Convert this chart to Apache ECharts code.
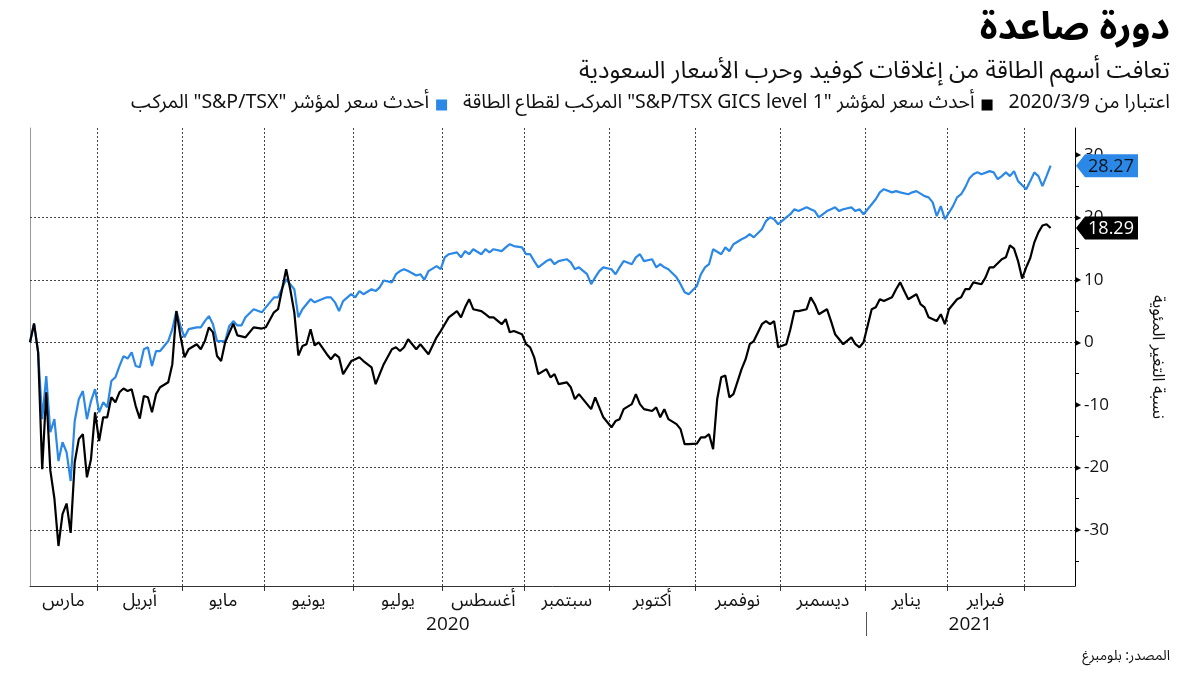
<!DOCTYPE html>
<html><head><meta charset="utf-8">
<script src="https://cdn.jsdelivr.net/npm/echarts@6/dist/echarts.min.js"></script>
<style>html,body{margin:0;padding:0;background:#fff}#c{width:1200px;height:675px}</style>
</head><body><div id="c"></div>
<script>
// ---- data ----
const monthNames = ['مارس','أبريل','مايو','يونيو','يوليو','أغسطس','سبتمبر','أكتوبر','نوفمبر','ديسمبر','يناير','فبراير'];
// trading-day index (from 2020-03-09) of the first session of each month, Mar 2020 .. Mar 2021
const monthStartDay = [0,17,38,58,80,102,122,143,164,185,206,226,245];
const yearLabels = ['2020','2021'];
const yLabelValues = [-30,-20,-10,0,10,20,30];
const yTickValues = [-35,-30,-25,-20,-15,-10,-5,0,5,10,15,20,25,30];
const gridValues = [20,10,0,-20,-30];
// [trading day, % change since 2020-03-09]
const energySector = [[0,0],[1,3.0],[2,-1.6],[3,-20.3],[4,-8.0],[5,-20.5],[6,-25.0],[7,-32.6],[8,-27.5],[9,-25.8],[10,-30.5],[11,-19.2],[12,-15.5],[13,-14.7],[14,-21.6],[15,-18.7],[16,-11.2],[17,-15.8],[18,-12.0],[19,-12.0],[20,-8.8],[21,-9.6],[22,-8.0],[23,-7.4],[24,-7.8],[25,-7.5],[26,-10.2],[27,-12.2],[28,-8.6],[29,-8.8],[30,-11.2],[31,-8.3],[32,-7.2],[34,-6.4],[35,-3.5],[36,5.0],[37,1.0],[38,-2.4],[39,-1.1],[41,-0.3],[42,-1.1],[43,0.2],[44,2.4],[45,1.6],[46,-2.2],[47,-3.0],[48,0.0],[50,3.0],[51,1.1],[53,0.8],[55,2.4],[57,2.2],[58,2.4],[60,4.8],[61,5.3],[63,11.7],[64,8.5],[65,4.8],[66,-2.1],[67,-0.6],[68,-0.3],[69,2.1],[70,-0.5],[71,0.0],[73,-1.9],[74,-2.7],[75,-1.9],[76,-2.4],[77,-5.1],[79,-3.0],[80,-2.7],[81,-2.4],[82,-3.0],[84,-4.0],[85,-6.7],[86,-5.1],[87,-3.5],[89,-1.1],[90,-0.8],[91,-1.4],[92,-0.8],[93,0.5],[95,-1.1],[96,-0.3],[97,-1.1],[98,-1.9],[100,0.8],[101,1.8],[102,2.9],[103,4.0],[105,5.0],[106,4.0],[107,5.6],[108,6.9],[109,5.3],[111,5.0],[112,4.5],[113,4.0],[114,4.0],[116,2.9],[117,3.7],[118,1.6],[119,1.8],[121,1.3],[122,-0.3],[123,-0.8],[124,-2.4],[125,-5.1],[127,-4.3],[128,-5.6],[129,-5.1],[130,-6.7],[132,-6.4],[133,-7.2],[134,-9.1],[135,-8.3],[137,-9.9],[138,-10.7],[139,-8.8],[140,-10.4],[141,-12.0],[143,-13.6],[144,-12.6],[145,-12.3],[146,-10.7],[148,-9.9],[149,-8.3],[150,-9.9],[151,-10.7],[153,-11.0],[154,-10.4],[155,-12.0],[156,-10.7],[157,-12.3],[159,-13.1],[160,-13.9],[161,-16.3],[162,-16.3],[164,-16.2],[165,-15.2],[166,-15.2],[167,-14.7],[168,-17.1],[169,-9.1],[170,-5.6],[171,-5.3],[172,-8.8],[173,-8.3],[175,-4.3],[176,-2.7],[177,-0.3],[178,0.2],[180,2.9],[181,3.4],[182,2.9],[183,3.4],[184,-0.8],[186,-0.3],[187,2.1],[188,5.0],[189,5.0],[191,5.3],[192,7.2],[193,6.1],[194,4.5],[196,5.3],[197,3.4],[198,1.3],[199,0.5],[200,-0.3],[202,0.8],[203,-0.3],[204,-0.8],[205,0.0],[207,5.3],[208,5.6],[209,6.9],[210,6.6],[212,7.2],[213,8.5],[214,9.6],[215,8.2],[216,6.9],[218,7.7],[219,6.1],[220,5.6],[221,4.0],[223,3.4],[224,4.5],[225,2.9],[226,5.3],[228,6.9],[229,7.2],[230,8.5],[231,8.5],[232,9.6],[234,9.3],[235,10.4],[236,12.0],[237,12.0],[239,13.3],[240,13.6],[241,15.5],[242,15.0],[243,13.0],[244,10.2],[245,12.0],[246,13.5],[247,16.0],[248,17.6],[249,18.7],[250,18.9],[251,18.29]];
const tsxComposite = [[0,0],[1,3.0],[2,-1.6],[3,-12.3],[4,-5.4],[5,-14.4],[6,-12.3],[7,-19.0],[8,-16.0],[9,-17.6],[10,-22.2],[11,-12.6],[12,-9.1],[13,-7.8],[14,-12.3],[15,-9.4],[16,-7.5],[17,-11.2],[18,-9.6],[19,-10.4],[20,-6.2],[21,-5.6],[22,-3.8],[23,-2.2],[24,-2.6],[25,-1.6],[26,-3.8],[27,-4.0],[28,-1.1],[29,-0.8],[30,-3.8],[31,-1.4],[32,-1.4],[34,0.2],[35,2.1],[36,5.0],[37,2.6],[38,0.8],[39,2.1],[41,2.4],[42,2.4],[43,3.4],[44,4.2],[45,2.9],[46,0.2],[48,0.2],[49,2.6],[50,3.4],[51,2.7],[52,2.7],[53,4.0],[55,5.3],[57,4.8],[58,5.6],[60,7.2],[61,7.2],[63,10.1],[65,8.5],[66,4.0],[67,5.3],[69,6.9],[70,6.4],[71,6.7],[73,7.2],[74,7.2],[75,6.4],[76,5.0],[77,6.6],[79,7.7],[80,7.2],[81,8.2],[82,7.7],[84,8.5],[85,8.2],[86,8.8],[87,9.9],[89,9.6],[90,10.9],[91,11.4],[92,11.7],[93,11.4],[95,10.7],[96,10.9],[97,10.0],[98,11.4],[100,12.2],[101,11.7],[102,13.6],[103,14.1],[105,14.4],[106,13.6],[107,14.6],[108,14.1],[109,14.9],[111,14.1],[112,14.9],[113,14.4],[114,14.9],[116,14.6],[117,15.2],[118,15.7],[119,15.4],[121,15.2],[122,14.1],[123,14.1],[124,13.0],[125,12.0],[127,13.0],[128,13.3],[129,12.5],[130,13.0],[132,13.3],[133,12.8],[134,11.7],[135,12.0],[137,10.9],[138,9.3],[139,10.4],[140,11.4],[141,12.0],[143,11.7],[144,10.9],[145,12.0],[146,13.0],[148,12.5],[149,13.6],[150,14.1],[151,13.0],[153,13.3],[154,12.0],[155,12.5],[156,12.0],[157,11.7],[159,10.4],[160,9.3],[161,8.0],[162,7.7],[164,9.0],[165,10.9],[166,12.0],[167,12.5],[168,14.9],[170,14.1],[171,15.2],[172,14.6],[173,15.7],[175,16.5],[176,16.8],[177,17.3],[178,16.8],[180,18.1],[181,19.4],[182,20.0],[183,19.7],[184,18.9],[186,20.0],[187,20.5],[188,21.3],[189,21.0],[191,21.6],[192,21.3],[193,21.0],[194,20.0],[196,21.0],[197,21.3],[198,21.6],[199,21.0],[200,21.3],[202,21.6],[203,21.0],[204,21.3],[205,20.5],[207,22.1],[208,22.9],[209,24.0],[210,24.5],[212,24.0],[213,24.2],[214,24.0],[216,23.7],[217,24.0],[218,24.2],[220,23.4],[221,23.2],[222,22.4],[223,20.2],[224,21.8],[225,19.7],[227,21.8],[228,23.2],[229,23.7],[230,24.8],[231,26.2],[232,26.9],[233,27.2],[234,26.9],[236,27.4],[237,27.2],[238,26.1],[239,26.6],[240,27.2],[241,26.6],[242,27.4],[243,25.8],[245,24.5],[246,25.8],[247,27.2],[248,26.6],[249,25.0],[250,26.6],[251,28.27]];

// ---- derived ----
const RTL = s => '\u202B' + s + '\u202C';
const AR = "'Noto Sans Arabic','Noto Sans','DejaVu Sans',sans-serif";
const NUM = "'Open Sans','Noto Sans',sans-serif";
const X_MAX = 257;
const boundaries = monthStartDay.slice(1).map(d => d - 0.5);
const edges = [0].concat(boundaries);
const labelPos = monthNames.map((m, i) => (edges[i] + edges[i + 1]) / 2);
const labelMap = {}; labelPos.forEach((p, i) => { labelMap[p.toFixed(3)] = monthNames[i]; });
const BLUE = '#2b88e6';
const lastE = energySector[energySector.length - 1];
const lastC = tsxComposite[tsxComposite.length - 1];
const tagPath = 'path://M0,11.5 L9,0 L62,0 L62,23 L9,23 Z';

const chart = echarts.init(document.getElementById('c'), null, {renderer: 'canvas'});
const option = {
  animation: false,
  backgroundColor: '#fff',
  title: [
    {text: 'دورة صاعدة', right: 25, top: 9, textStyle: {fontFamily: AR, fontSize: 38, fontWeight: 'bold', color: '#000'}},
    {text: 'تعافت أسهم الطاقة من إغلاقات كوفيد وحرب الأسعار السعودية', right: 25, top: 57, textStyle: {fontFamily: AR, fontSize: 24, fontWeight: 'normal', color: '#111'}},
    {text: '{t|' + RTL('أحدث سعر لمؤشر "S&P/TSX" المركب') + '}{g|}{b|}{g2|}{t|' + RTL('أحدث سعر لمؤشر "S&P/TSX GICS level 1" المركب لقطاع الطاقة') + '}{g|}{k|}{g2|}{t|' + RTL('اعتبارا من 2020/3/9') + '}',
     right: 25, top: 90,
     textStyle: {fontWeight: 'normal', rich: {
       t: {fontFamily: AR, fontSize: 19.5, fontWeight: 'normal', color: '#111'},
       b: {width: 11, height: 11, backgroundColor: BLUE},
       k: {width: 11, height: 11, backgroundColor: '#000'},
       g: {width: 7}, g2: {width: 16}
     }}},
    {text: 'المصدر: بلومبرغ', right: 25, bottom: 5, textStyle: {fontFamily: AR, fontSize: 14, fontWeight: 'normal', color: '#111'}}
  ],
  grid: {left: 30, right: 125, top: 128, bottom: 89, containLabel: false, outerBoundsMode: 'none'},
  xAxis: {
    type: 'value', min: 0, max: X_MAX,
    axisLine: {show: true, onZero: false, lineStyle: {color: '#333', width: 1}},
    axisTick: {show: true, customValues: boundaries, length: 5, lineStyle: {color: '#333'}},
    splitLine: {show: false},
    axisLabel: {show: true, customValues: labelPos, margin: 8, fontFamily: AR, fontSize: 18, color: '#111',
      formatter: v => labelMap[Number(v).toFixed(3)] || ''}
  },
  yAxis: [{
    type: 'value', position: 'right', min: -39, max: 34.3,
    name: 'نسبة التغير المئوية', nameLocation: 'middle', nameRotate: -90, nameGap: 72,
    nameTextStyle: {fontFamily: AR, fontSize: 17, color: '#111'},
    axisLine: {show: true, onZero: false, lineStyle: {color: '#000', width: 1}},
    axisTick: {show: true, customValues: yTickValues, length: 4, lineStyle: {color: '#000'}},
    splitLine: {show: false},
    axisLabel: {show: true, customValues: yLabelValues, margin: 0, color: '#111', fontFamily: NUM, fontSize: 17,
      formatter: v => '{t|▶}' + v,
      rich: {t: {fontSize: 8, color: '#000', padding: [0, 3, 0, 0]}}}
  }, {
    type: 'value', position: 'left', min: -39, max: 34.3,
    axisLine: {show: true, onZero: false, lineStyle: {color: '#999', width: 1}},
    axisTick: {show: false}, axisLabel: {show: false}, splitLine: {show: false}
  }],
  series: [
    {
      type: 'line', name: 'grid', data: [], z: 1, silent: true,
      markLine: {
        silent: true, symbol: ['none', 'none'], label: {show: false}, z: 1,
        emphasis: {disabled: true},
        lineStyle: {color: '#444', type: [2, 2], width: 1},
        data: gridValues.map(v => ({yAxis: v})).concat(boundaries.map(b => ({xAxis: b})))
      }
    },
    {
      type: 'line', name: 'S&P/TSX', data: tsxComposite, showSymbol: false, z: 3,
      lineStyle: {color: BLUE, width: 2.2}, itemStyle: {color: BLUE},
      markPoint: {
        silent: true,
        data: [{coord: [X_MAX, lastC[1]], value: lastC[1]}],
        symbol: tagPath, symbolSize: [62, 23], symbolOffset: [32, 0],
        itemStyle: {color: BLUE},
        label: {show: true, position: 'inside', offset: [4, 1], color: '#0b1520', fontFamily: NUM, fontSize: 18, formatter: p => p.value.toFixed(2)}
      }
    },
    {
      type: 'line', name: 'Energy', data: energySector, showSymbol: false, z: 4,
      lineStyle: {color: '#000', width: 2.2}, itemStyle: {color: '#000'},
      markPoint: {
        silent: true,
        data: [{coord: [X_MAX, lastE[1]], value: lastE[1]}],
        symbol: tagPath, symbolSize: [62, 23], symbolOffset: [32, 0],
        itemStyle: {color: '#000'},
        label: {show: true, position: 'inside', offset: [4, 1], color: '#fff', fontFamily: NUM, fontSize: 18, formatter: p => p.value.toFixed(2)}
      }
    }
  ]
};
chart.setOption(option);

// year labels and separator, placed through the x axis scale
const xp = v => chart.convertToPixel({xAxisIndex: 0}, v);
const yearEdges = [0, monthStartDay[10] - 0.5, X_MAX];
const gfx = [];
yearLabels.forEach((y, i) => {
  gfx.push({type: 'text', x: (xp(yearEdges[i]) + xp(yearEdges[i + 1])) / 2, y: 625,
    style: {text: y, fill: '#111', font: "19px 'Open Sans','Noto Sans',sans-serif", textAlign: 'center', textVerticalAlign: 'middle'}});
});
const sx = Math.round(xp(yearEdges[1])) + 0.5;
gfx.push({type: 'line', shape: {x1: sx, y1: 612, x2: sx, y2: 636}, style: {stroke: '#555', lineWidth: 1}});
chart.setOption({graphic: gfx});
</script>
</body></html>
